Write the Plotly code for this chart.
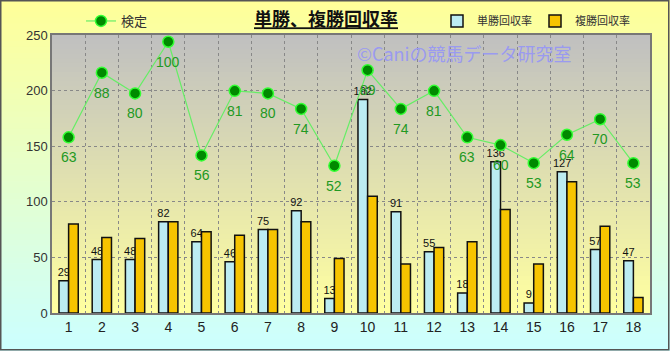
import plotly.graph_objects as go

races = list(range(1, 19))
tansho = [29, 48, 48, 82, 64, 46, 75, 92, 13, 192, 91, 55, 18, 136, 9, 127, 57, 47]
fukusho = [80, 68, 67, 82, 73, 70, 75, 82, 49, 105, 44, 59, 64, 93, 44, 118, 78, 14]
kentei = [63, 88, 80, 100, 56, 81, 80, 74, 52, 89, 74, 81, 63, 60, 53, 64, 70, 53]
y_ticks = [0, 50, 100, 150, 200, 250]

W, H = 670, 351
ML, MR, MT, MB = 52, 20, 35, 38
PW, PH = W - ML - MR, H - MT - MB

def px_x(p):
    return (p - ML) / PW

def px_y(p):
    return (H - MB - p) / PH

def lerp(c1, c2, t):
    return "rgb(%d,%d,%d)" % tuple(round(a + (b - a) * t) for a, b in zip(c1, c2))

shapes = []
N = 60
# outer background gradient (yellow -> light cyan)
for i in range(N):
    y_top = i * H / N
    y_bot = (i + 1) * H / N + 0.8
    shapes.append(dict(type="rect", xref="paper", yref="paper",
                       x0=px_x(0), x1=px_x(W), y0=px_y(min(y_bot, H)), y1=px_y(y_top),
                       fillcolor=lerp((255, 255, 153), (204, 255, 255), i / (N - 1)),
                       line=dict(width=0), layer="below"))
# plot area gradient (gray -> light yellow)
for i in range(N):
    t0 = i / N
    t1 = (i + 1) / N
    shapes.append(dict(type="rect", xref="paper", yref="paper",
                       x0=0, x1=1, y0=max(0, 1 - t1 - 0.003), y1=1 - t0,
                       fillcolor=lerp((192, 192, 192), (255, 255, 160), i / (N - 1)),
                       line=dict(width=0), layer="below"))
# outer frame
shapes.append(dict(type="rect", xref="paper", yref="paper",
                   x0=px_x(0.75), x1=px_x(W - 1.25), y0=px_y(H - 1.25), y1=px_y(0.75),
                   line=dict(color="#555555", width=1.5), fillcolor="rgba(0,0,0,0)", layer="above"))

fig = go.Figure()

fig.add_trace(go.Bar(
    x=races, y=tansho, name="単勝回収率", legend="legend2",
    marker=dict(color="#bcecf2", line=dict(color="#111111", width=1.5)),
    text=[str(v) for v in tansho], textposition="outside", constraintext="none",
    textfont=dict(family="Liberation Sans, Arial", size=11, color="#111111"),
    cliponaxis=False,
))
fig.add_trace(go.Bar(
    x=races, y=fukusho, name="複勝回収率", legend="legend2",
    marker=dict(color="#f7c400", line=dict(color="#111111", width=1.5)),
))
fig.add_trace(go.Scatter(
    x=races, y=kentei, name="検定", yaxis="y2", legend="legend",
    mode="lines+markers",
    line=dict(color="#66ee66", width=1.2),
    marker=dict(color="#008a00", size=11, line=dict(color="#33ff33", width=1.5)),
    cliponaxis=False,
))

for r, v in zip(races, kentei):
    fig.add_annotation(
        x=r, y=v, xref="x", yref="y2", text=str(v), showarrow=False,
        yshift=-20, xanchor="center", yanchor="middle",
        font=dict(family="Liberation Sans, Arial", size=14, color="#229922"),
    )

fig.add_annotation(
    text="©Caniの競馬データ研究室", xref="paper", yref="paper",
    x=px_x(355), y=px_y(53), xanchor="left", yanchor="middle", showarrow=False,
    font=dict(family="Noto Sans CJK JP", size=18, color="#9a9af0"),
)

fig.update_layout(
    width=W, height=H,
    margin=dict(l=ML, r=MR, t=MT, b=MB, autoexpand=False),
    paper_bgcolor="#ffff99",
    plot_bgcolor="rgba(0,0,0,0)",
    barmode="group", bargap=0.42, bargroupgap=0.0,
    title=dict(text="<b><u>単勝、複勝回収率</u></b>", x=326 / W, xanchor="center",
               y=1 - 20 / H, yanchor="middle",
               font=dict(family="Noto Sans CJK JP", size=18, color="#111111")),
    font=dict(family="Noto Sans CJK JP", color="#333333"),
    shapes=shapes,
    showlegend=True,
    legend=dict(orientation="h", x=px_x(81), y=px_y(21), xanchor="left", yanchor="middle",
                bgcolor="rgba(0,0,0,0)", borderwidth=0,
                font=dict(family="Noto Sans CJK JP", size=13, color="#333333")),
    legend2=dict(orientation="h", x=px_x(437), y=px_y(21), xanchor="left", yanchor="middle",
                 bgcolor="rgba(0,0,0,0)", borderwidth=0, entrywidth=53, entrywidthmode="pixels",
                 font=dict(family="Noto Sans CJK JP", size=11, color="#333333")),
    xaxis=dict(range=[0.5, 18.5], tickmode="array", tickvals=races,
               ticktext=[str(r) for r in races], showgrid=False, ticks="",
               showline=True, mirror=True, linecolor="#777777", linewidth=1.5,
               tickfont=dict(family="Liberation Sans, Arial", size=14, color="#222222"),
               minor=dict(tick0=0.5, dtick=1, showgrid=True, gridcolor="#888888",
                          griddash="dot", gridwidth=1),
               zeroline=False),
    yaxis=dict(range=[0, 250], tickmode="array", tickvals=y_ticks,
               showgrid=True, gridcolor="#888888", griddash="dot", gridwidth=1,
               showline=True, mirror=True, linecolor="#777777", linewidth=1.5,
               tickfont=dict(family="Liberation Sans, Arial", size=13, color="#333333"),
               ticks="", zeroline=False),
    yaxis2=dict(range=[-5, 102.6], overlaying="y", visible=False, showgrid=False),
)

fig.write_html("out.html")
